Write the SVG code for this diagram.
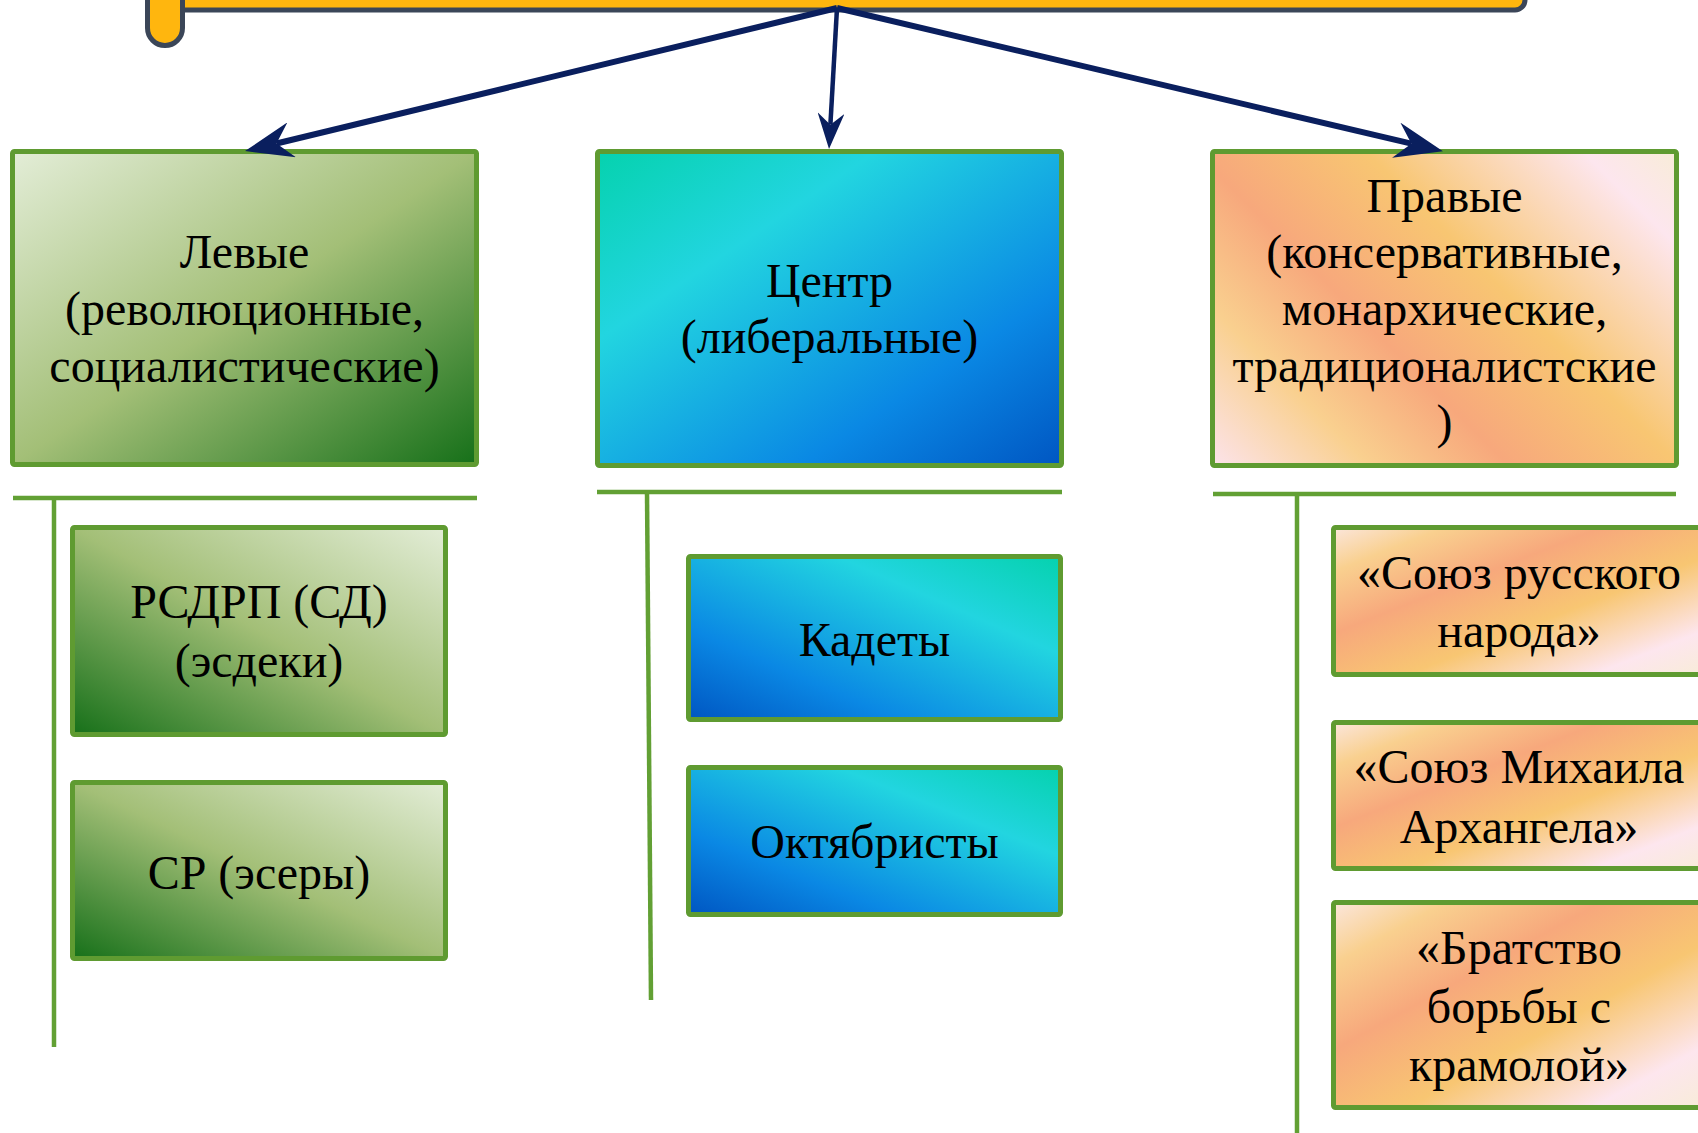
<svg xmlns="http://www.w3.org/2000/svg" width="1698" height="1133" viewBox="0 0 1698 1133">
<defs>
  <linearGradient id="gLeft" x1="0" y1="0" x2="1" y2="1">
    <stop offset="0" stop-color="#E3EDD7"/>
    <stop offset="0.5" stop-color="#A3BF77"/>
    <stop offset="1" stop-color="#167019"/>
  </linearGradient>
  <linearGradient id="gLeftChild" x1="0" y1="1" x2="1" y2="0">
    <stop offset="0" stop-color="#167019"/>
    <stop offset="0.5" stop-color="#A3BF77"/>
    <stop offset="1" stop-color="#E3EDD7"/>
  </linearGradient>
  <linearGradient id="gCenter" x1="0" y1="0" x2="1" y2="1">
    <stop offset="0" stop-color="#05D2AE"/>
    <stop offset="0.3" stop-color="#22D5E0"/>
    <stop offset="0.72" stop-color="#0A88E4"/>
    <stop offset="1" stop-color="#0056C2"/>
  </linearGradient>
  <linearGradient id="gCenterChild" x1="0" y1="1" x2="1" y2="0">
    <stop offset="0" stop-color="#0056C2"/>
    <stop offset="0.28" stop-color="#0A88E4"/>
    <stop offset="0.7" stop-color="#22D5E0"/>
    <stop offset="1" stop-color="#05D2AE"/>
  </linearGradient>
  <linearGradient id="gRight" gradientUnits="userSpaceOnUse" x1="1213" y1="465" x2="1601.5" y2="76.5">
    <stop offset="0" stop-color="#FCE3EA"/>
    <stop offset="0.2" stop-color="#F9D08F"/>
    <stop offset="0.38" stop-color="#F7A87C"/>
    <stop offset="0.6" stop-color="#F8C672"/>
    <stop offset="0.88" stop-color="#FDE6EE"/>
    <stop offset="1" stop-color="#F8ECD8"/>
  </linearGradient>
  <linearGradient id="gRightChild" x1="0" y1="0" x2="1" y2="1">
    <stop offset="0" stop-color="#FBE6DC"/>
    <stop offset="0.15" stop-color="#F9D08F"/>
    <stop offset="0.36" stop-color="#F7A87C"/>
    <stop offset="0.6" stop-color="#F8C672"/>
    <stop offset="0.85" stop-color="#FDE6EE"/>
    <stop offset="1" stop-color="#F8ECD8"/>
  </linearGradient>
  <marker id="arrow" viewBox="0 0 8 6" markerWidth="8" markerHeight="6" refX="2.6" refY="3" orient="auto" markerUnits="strokeWidth">
    <path d="M0,0 L8,3 L0,6 L2.6,3 z" fill="#0A1F5E"/>
  </marker>
</defs>
<style>
  .box { stroke: #5F9B31; stroke-width: 5; }
  .sep { stroke: #62A034; stroke-width: 4.5; fill: none; }
  .conn { stroke: #0A1F5E; fill: none; marker-end: url(#arrow); }
  .banner { fill: #FFB60E; stroke: #3B4658; stroke-width: 5; }
  text { font-family: "Liberation Serif", "Times New Roman", serif; font-size: 48px; fill: #000; text-anchor: middle; }
</style>

<g id="banner">
  <rect class="banner" x="160" y="-60" width="1365" height="70" rx="10"/>
  <path class="banner" d="M147.5,-60 V28 A17.5,17.5 0 0 0 182.5,28 V-60 z"/>
</g>

<g id="left-main">
  <rect class="box" x="12.5" y="151.5" width="464" height="313" rx="2" fill="url(#gLeft)"/>
  <text x="244.5" y="268">Левые</text>
  <text x="244.5" y="325">(революционные,</text>
  <text x="244.5" y="382">социалистические)</text>
</g>

<g id="center-main">
  <rect class="box" x="597.5" y="151.5" width="464" height="314" rx="2" fill="url(#gCenter)"/>
  <text x="829.5" y="297">Центр</text>
  <text x="829.5" y="353">(либеральные)</text>
</g>

<g id="right-main">
  <rect class="box" x="1212.5" y="151.5" width="464" height="314" rx="2" fill="url(#gRight)"/>
  <text x="1444.5" y="212">Правые</text>
  <text x="1444.5" y="268">(консервативные,</text>
  <text x="1444.5" y="325">монархические,</text>
  <text x="1444.5" y="382">традиционалистские</text>
  <text x="1444.5" y="438">)</text>
</g>

<g id="rsdrp">
  <rect class="box" x="72.5" y="527.5" width="373" height="207" rx="2" fill="url(#gLeftChild)"/>
  <text x="259" y="618">РСДРП (СД)</text>
  <text x="259" y="677">(эсдеки)</text>
</g>

<g id="sr">
  <rect class="box" x="72.5" y="782.5" width="373" height="176" rx="2" fill="url(#gLeftChild)"/>
  <text x="259" y="889">СР (эсеры)</text>
</g>

<g id="kadety">
  <rect class="box" x="688.5" y="556.5" width="372" height="163" rx="2" fill="url(#gCenterChild)"/>
  <text x="874.5" y="656">Кадеты</text>
</g>

<g id="oktyabristy">
  <rect class="box" x="688.5" y="767.5" width="372" height="147" rx="2" fill="url(#gCenterChild)"/>
  <text x="874.5" y="858">Октябристы</text>
</g>

<g id="srn">
  <rect class="box" x="1333.5" y="527.5" width="371" height="147" rx="2" fill="url(#gRightChild)"/>
  <text x="1519" y="589">«Союз русского</text>
  <text x="1519" y="647">народа»</text>
</g>

<g id="sma">
  <rect class="box" x="1333.5" y="722.5" width="371" height="146" rx="2" fill="url(#gRightChild)"/>
  <text x="1519" y="783">«Союз Михаила</text>
  <text x="1519" y="843">Архангела»</text>
</g>

<g id="bratstvo">
  <rect class="box" x="1333.5" y="902.5" width="371" height="205" rx="2" fill="url(#gRightChild)"/>
  <text x="1519" y="964">«Братство</text>
  <text x="1519" y="1023">борьбы с</text>
  <text x="1519" y="1081">крамолой»</text>
</g>

<g id="connectors">
  <line class="sep" x1="13" y1="498" x2="477" y2="498"/>
  <line class="sep" x1="54" y1="498" x2="54" y2="1047"/>
  <line class="sep" x1="597" y1="492" x2="1062" y2="492"/>
  <line class="sep" x1="647" y1="492" x2="651" y2="1000"/>
  <line class="sep" x1="1213" y1="494" x2="1676" y2="494"/>
  <line class="sep" x1="1297" y1="494" x2="1297" y2="1133"/>
  <path class="conn" stroke-width="6" d="M837,8 L276.5,143.5"/>
  <path class="conn" stroke-width="4.5" d="M837,8 L830.4,124.7"/>
  <path class="conn" stroke-width="6" d="M837,8 L1411.4,143.7"/>
</g>
</svg>
